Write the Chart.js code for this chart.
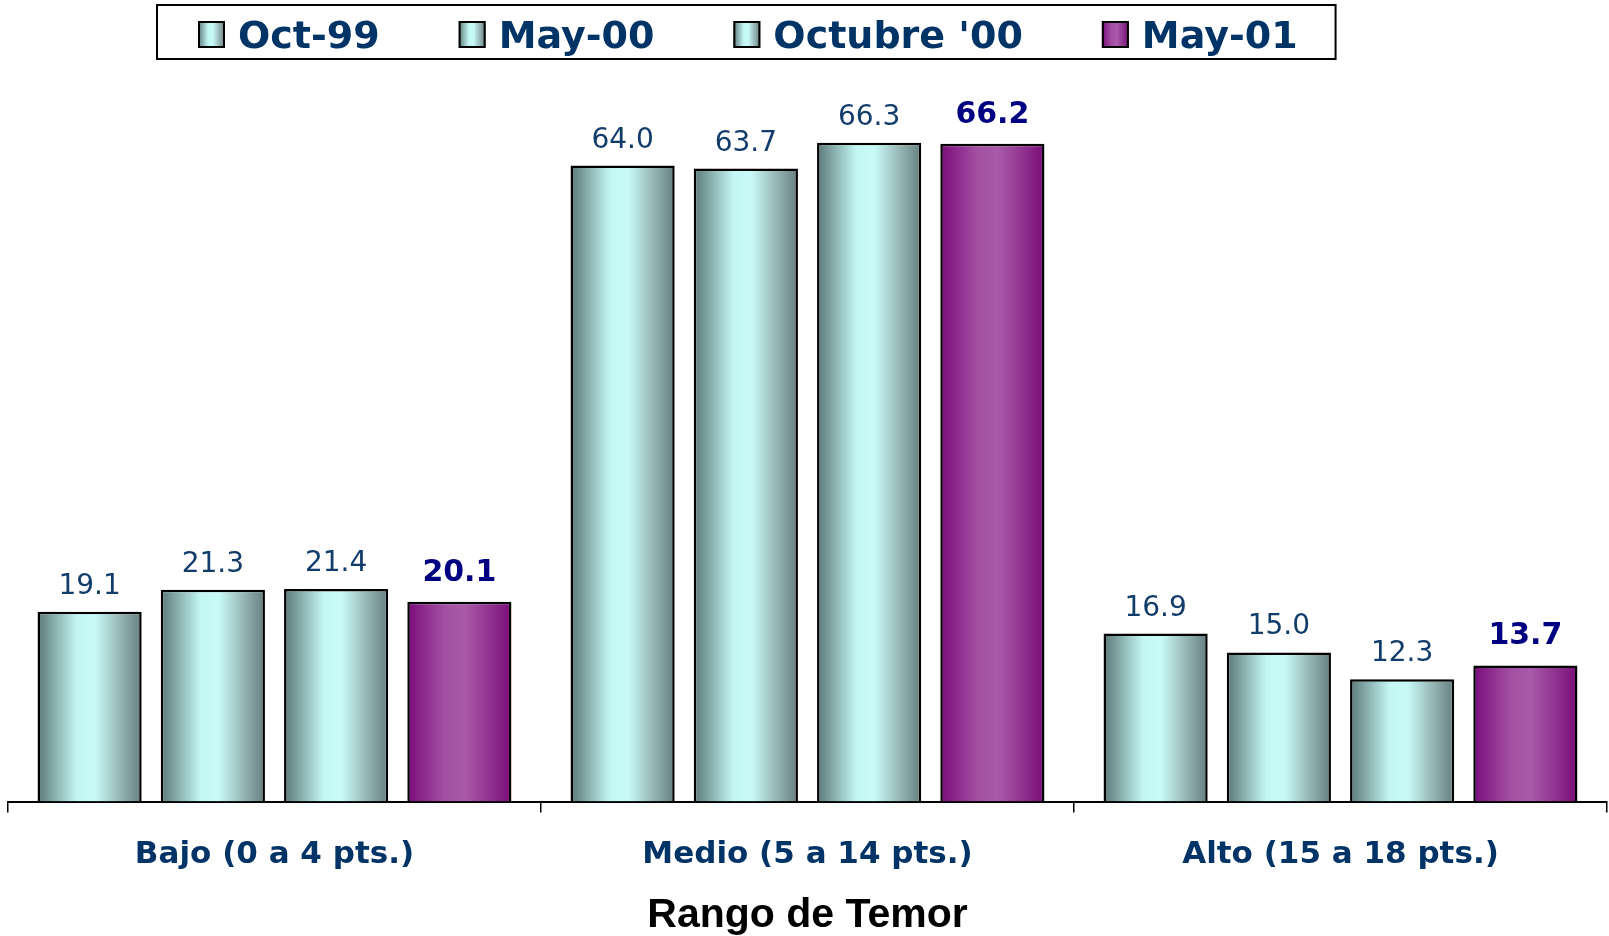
<!DOCTYPE html>
<html>
<head>
<meta charset="UTF-8">
<title>Rango de Temor</title>
<script src="https://cdn.jsdelivr.net/npm/chart.js@4.4.1/dist/chart.umd.min.js"></script>
<style>
    body { margin: 0; background: #fff; }
</style>
</head>
<body>
<canvas id="myChart" width="1609" height="936"></canvas>
<script>
// data
var categories = ['Bajo (0 a 4 pts.)', 'Medio (5 a 14 pts.)', 'Alto (15 a 18 pts.)'];
var seriesNames = ['Oct-99', 'May-00', "Octubre '00", 'May-01'];
var oct99 = [19.1, 64.0, 16.9];
var may00 = [21.3, 63.7, 15.0];
var oct00 = [21.4, 66.3, 12.3];
var may01 = [20.1, 66.2, 13.7];
var axisTitle = 'Rango de Temor';

// gradient stops (left -> right across each bar)
var teal = [[0, '#5B7878'], [0.38, '#C3F7F4'], [0.55, '#C8FBF8'], [0.8, '#94B4B3'], [1, '#657F7F']];
var purple = [[0, '#7A0C7B'], [0.35, '#A24FA2'], [0.55, '#AA5AAA'], [0.8, '#8E318E'], [1, '#7A0C7A']];

function makeGrad(ctx, x0, x1, stops) {
    var g = ctx.createLinearGradient(x0, 0, x1, 0);
    stops.forEach(function (s) { g.addColorStop(s[0], s[1]); });
    return g;
}

// paint each bar with a horizontal gradient
var gradientBars = {
    id: 'gradientBars',
    beforeDatasetsDraw: function (chart) {
        chart.data.datasets.forEach(function (ds, i) {
            var meta = chart.getDatasetMeta(i);
            meta.data.forEach(function (bar) {
                var p = bar.getProps(['x', 'width'], true);
                bar.options.backgroundColor = makeGrad(chart.ctx, p.x - p.width / 2, p.x + p.width / 2, ds.stops);
            });
        });
    }
};

// value labels above bars
var valueLabels = {
    id: 'valueLabels',
    afterDatasetsDraw: function (chart) {
        var c = chart.ctx;
        var n = chart.data.datasets.length;
        chart.data.datasets.forEach(function (ds, i) {
            var meta = chart.getDatasetMeta(i);
            var last = i === n - 1;
            c.save();
            c.font = last ? "bold 30px 'DejaVu Sans'" : "28px 'DejaVu Sans'";
            c.fillStyle = last ? '#000080' : '#123D6B';
            c.textAlign = 'center';
            c.textBaseline = 'alphabetic';
            meta.data.forEach(function (bar, j) {
                c.fillText(ds.data[j].toFixed(1), bar.x, bar.y - (last ? 21 : 18));
            });
            c.restore();
        });
    }
};

// boxed legend at the top
var boxLegend = {
    id: 'boxLegend',
    afterDraw: function (chart) {
        var c = chart.ctx;
        c.save();
        c.font = "bold 38px 'DejaVu Sans'";
        var x = 198, items = [];
        chart.data.datasets.forEach(function (ds) {
            items.push({ x: x, ds: ds });
            x += 27 + 13 + c.measureText(ds.label).width + 79;
        });
        var right = x - 79 + 38;
        c.lineWidth = 2;
        c.strokeStyle = '#000';
        c.strokeRect(157, 5, right - 157, 54);
        items.forEach(function (it) {
            c.fillStyle = makeGrad(c, it.x, it.x + 27, it.ds.stops);
            c.fillRect(it.x, 21, 27, 27);
            c.strokeRect(it.x + 1, 22, 25, 25);
            c.fillStyle = '#003366';
            c.textAlign = 'left';
            c.textBaseline = 'alphabetic';
            c.fillText(it.ds.label, it.x + 40, 48);
        });
        c.restore();
    }
};

var seriesData = [oct99, may00, oct00, may01];
var seriesStops = [teal, teal, teal, purple];

var datasets = seriesNames.map(function (name, i) {
    return {
        label: name,
        data: seriesData[i],
        stops: seriesStops[i],
        backgroundColor: function () { return seriesStops[i][2][1]; },
        borderColor: '#000',
        borderWidth: 2.5,
        borderSkipped: 'bottom',
        categoryPercentage: 0.925,
        barPercentage: 0.845
    };
});

var ctx = document.getElementById('myChart').getContext('2d');
var chart = new Chart(ctx, {
    type: 'bar',
    data: { labels: categories, datasets: datasets },
    options: {
        responsive: false,
        animation: false,
        layout: { padding: { top: 106, left: 8, right: 2, bottom: 0 } },
        plugins: {
            legend: { display: false },
            tooltip: { enabled: false }
        },
        scales: {
            y: { display: false, min: 0, max: 70 },
            x: {
                afterFit: function (scale) { scale.height = 134.5; },
                grid: { offset: true, drawOnChartArea: false, drawTicks: true, tickLength: 11, color: '#000', lineWidth: 1.5 },
                border: { display: true, color: '#000', width: 2 },
                ticks: {
                    color: '#003366',
                    padding: 24,
                    font: { family: "'DejaVu Sans'", weight: 'bold', size: 31 }
                },
                title: {
                    display: true,
                    text: axisTitle,
                    color: '#000',
                    font: { family: "'Liberation Sans'", weight: 'bold', size: 41, lineHeight: 1 },
                    padding: { top: 10, bottom: 0 }
                }
            }
        }
    },
    plugins: [gradientBars, valueLabels, boxLegend]
});
</script>
</body>
</html>
